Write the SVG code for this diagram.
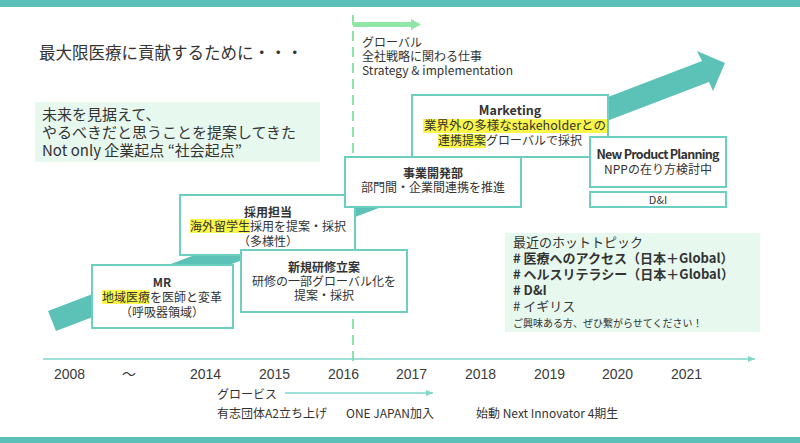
<svg xmlns="http://www.w3.org/2000/svg" width="800" height="443" viewBox="0 0 800 443">
<defs>
<style>
.t{font-family:"Noto Sans CJK JP","Noto Sans",sans-serif;fill:#333}
.y{font-family:"Liberation Sans","Noto Sans CJK JP",sans-serif;fill:#3a3a3a;font-size:14px}
.b{font-weight:bold}
.box{fill:#fff;stroke:#6dcfc0;stroke-width:2}
.mint{fill:#e7f8ee}
.hl{fill:#fbf74a}
</style>
<marker id="ah" markerWidth="8" markerHeight="8" refX="7" refY="4" orient="auto" markerUnits="userSpaceOnUse">
<path d="M0,1 L7,4 L0,7 Z" fill="#7fd6cb"/>
</marker>
</defs>
<rect x="0" y="0" width="800" height="7" fill="#5bc0b8"/>
<rect x="0" y="437" width="800" height="6" fill="#5bc0b8"/>

<text class="t" x="39" y="59" font-size="16.5">最大限医療に貢献するために・・・</text>

<g id="intro">
<rect class="mint" x="35" y="102" width="285" height="60"/>
<text class="t" x="42" y="120" font-size="15">未来を見据えて、</text>
<text class="t" x="42" y="138" font-size="15">やるべきだと思うことを提案してきた</text>
<text class="t" x="42" y="156" font-size="15">Not only 企業起点 “社会起点”</text>
</g>

<g id="connectors">
<polygon points="48,311 702,61 697,51 725,63 713,91 709,82 56,331" fill="#5cc2b8"/>
<line x1="353" y1="15" x2="353" y2="362" stroke="#8ee3a8" stroke-width="2" stroke-dasharray="10 6"/>
<polygon points="353,22 411,22 411,19 421,24.5 411,30 411,27 353,27" fill="#8fe6a6"/>
<line x1="43" y1="359" x2="755" y2="359" stroke="#7fd6cb" stroke-width="1.5" marker-end="url(#ah)"/>
<line x1="285" y1="393" x2="433" y2="393" stroke="#7fd6cb" stroke-width="1.5" marker-end="url(#ah)"/>
</g>

<g id="global-label">
<text class="t" x="362" y="47" font-size="12">グローバル</text>
<text class="t" x="362" y="61" font-size="12">全社戦略に関わる仕事</text>
<text class="t" x="362" y="75" font-size="12" textLength="151">Strategy &amp; implementation</text>
</g>

<g id="mr">
<rect class="box" x="92" y="265" width="141" height="63"/>
<rect class="hl" x="102" y="290" width="47" height="14"/>
<text class="t b" x="162" y="287" font-size="12" text-anchor="middle">MR</text>
<text class="t" x="162" y="302" font-size="12" text-anchor="middle">地域医療を医師と変革</text>
<text class="t" x="162" y="317" font-size="12" text-anchor="middle">（呼吸器領域）</text>
</g>

<g id="saiyo">
<rect class="box" x="180" y="195" width="175" height="60"/>
<rect class="hl" x="190" y="219" width="60" height="14"/>
<text class="t b" x="268" y="217" font-size="12" text-anchor="middle">採用担当</text>
<text class="t" x="268" y="231" font-size="12" text-anchor="middle">海外留学生採用を提案・採択</text>
<text class="t" x="268" y="246" font-size="12" text-anchor="middle">（多様性）</text>
</g>

<g id="kenshu">
<rect class="box" x="241" y="250" width="166" height="62"/>
<text class="t b" x="324" y="272" font-size="12" text-anchor="middle">新規研修立案</text>
<text class="t" x="324" y="286" font-size="12" text-anchor="middle">研修の一部グローバル化を</text>
<text class="t" x="324" y="300" font-size="12" text-anchor="middle">提案・採択</text>
</g>

<g id="jigyo">
<rect class="box" x="345" y="157" width="176" height="50"/>
<text class="t b" x="433" y="178" font-size="12" text-anchor="middle">事業開発部</text>
<text class="t" x="433" y="192" font-size="12" text-anchor="middle">部門間・企業間連携を推進</text>
</g>

<g id="marketing">
<rect class="box" x="412" y="95" width="196" height="62"/>
<rect class="hl" x="423" y="119" width="184" height="14"/>
<rect class="hl" x="438" y="134" width="48" height="14"/>
<text class="t b" x="510" y="115" font-size="12.5" text-anchor="middle">Marketing</text>
<text class="t" x="424" y="130" font-size="12.5" textLength="182">業界外の多様なstakeholderとの</text>
<text class="t" x="510" y="145" font-size="12" text-anchor="middle">連携提案グローバルで採択</text>
</g>

<g id="npp">
<rect class="box" x="590" y="137" width="136" height="50"/>
<text class="t b" x="658" y="159" font-size="12.5" text-anchor="middle" textLength="123">New Product Planning</text>
<text class="t" x="658" y="174" font-size="12" text-anchor="middle">NPPの在り方検討中</text>
</g>

<g id="dni">
<rect class="box" x="590" y="192" width="136" height="15"/>
<text class="t" x="658" y="204" font-size="11" text-anchor="middle">D&amp;I</text>
</g>

<g id="hot">
<rect class="mint" x="505" y="233" width="255" height="99"/>
<text class="t" x="513" y="247" font-size="13">最近のホットトピック</text>
<text class="t b" x="513" y="263" font-size="13"># 医療へのアクセス（日本＋Global）</text>
<text class="t b" x="513" y="279" font-size="13"># ヘルスリテラシー（日本＋Global）</text>
<text class="t b" x="513" y="295" font-size="13"># D&amp;I</text>
<text class="t" x="513" y="311" font-size="13"># イギリス</text>
<text class="t" x="513" y="327" font-size="10">ご興味ある方、ぜひ繋がらせてください！</text>
</g>

<g id="years">
<text class="y" x="54" y="379">2008</text>
<text class="y" x="122" y="379">〜</text>
<text class="y" x="190" y="379">2014</text>
<text class="y" x="259" y="379">2015</text>
<text class="y" x="328" y="379">2016</text>
<text class="y" x="396" y="379">2017</text>
<text class="y" x="465" y="379">2018</text>
<text class="y" x="534" y="379">2019</text>
<text class="y" x="602" y="379">2020</text>
<text class="y" x="671" y="379">2021</text>
</g>

<g id="events">
<text class="t" x="217" y="399" font-size="12">グロービス</text>
<text class="t" x="217" y="418" font-size="12">有志団体A2立ち上げ</text>
<text class="t" x="346" y="418" font-size="12">ONE JAPAN加入</text>
<text class="t" x="476" y="418" font-size="12">始動 Next Innovator 4期生</text>
</g>
</svg>
